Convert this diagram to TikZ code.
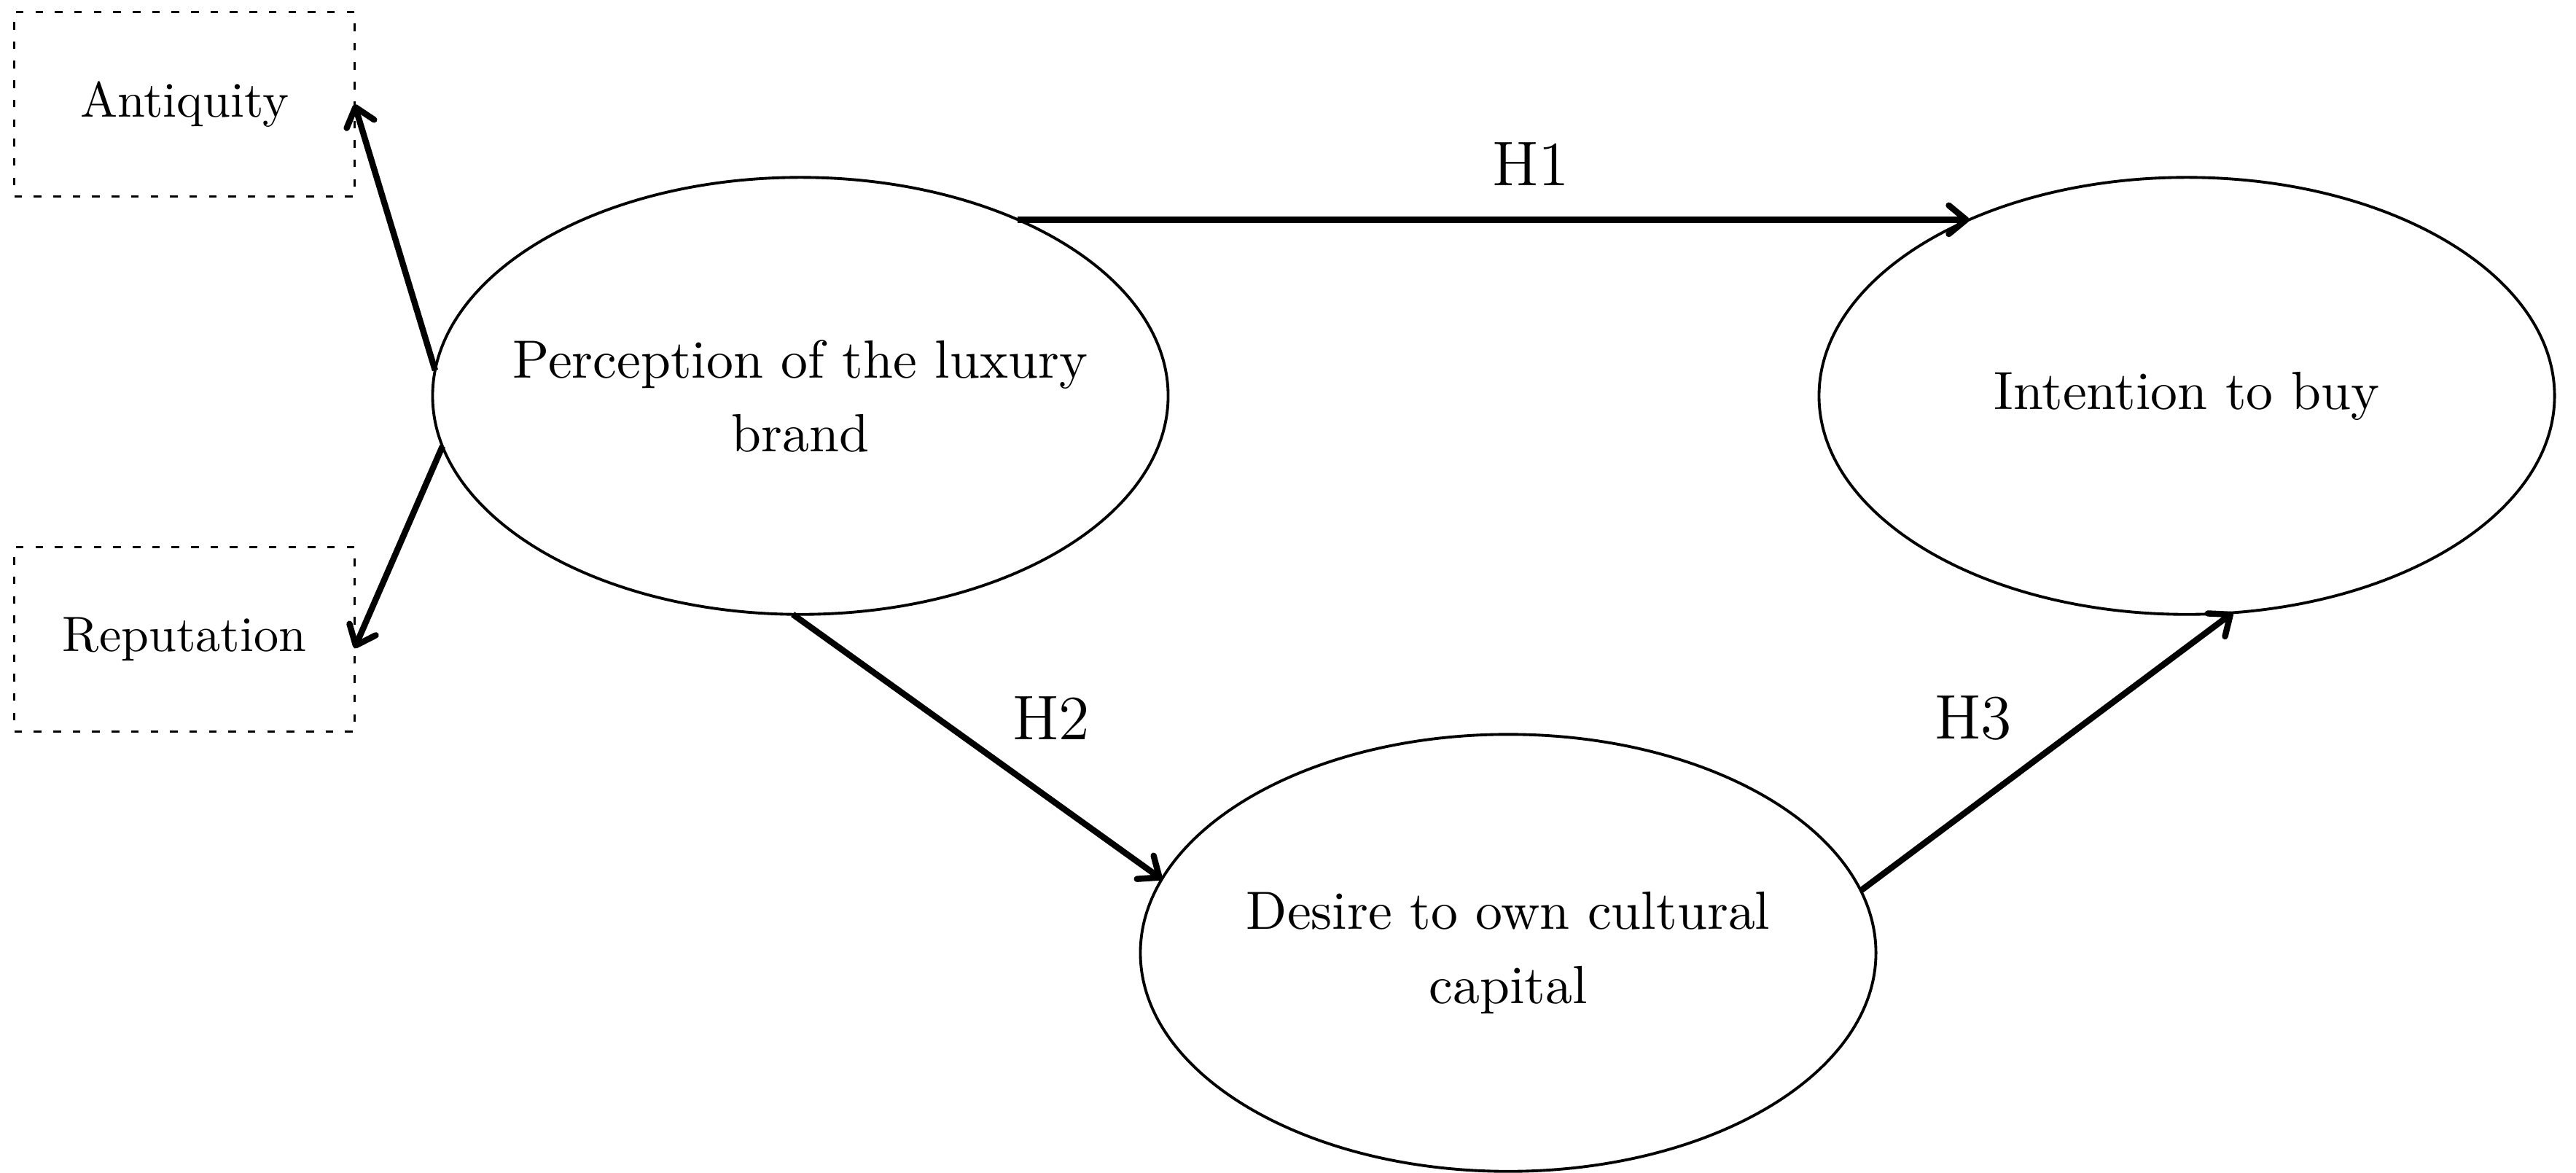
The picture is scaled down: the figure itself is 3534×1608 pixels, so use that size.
\documentclass[tikz,border=0pt]{standalone}
\usetikzlibrary{shapes, arrows.meta}

\begin{document}
\begin{tikzpicture}
  [
  x = 0.005cm, y = -0.005cm,
  % construct
  construct/.style = {ellipse,
    draw, line width = 0.55pt,
    minimum width = 5.05cm,
    minimum height = 3cm,
    inner sep = 0pt, outer sep = 0pt},
  % text in a construct
  ctext/.style = {align = center,
    font = \fontsize{10.5}{14.4}\selectfont},
  % indicator
  indicator/.style = {rectangle,
    draw, line width = 0.42pt,
    dash pattern = on 1.5pt off 2.3pt,
    minimum width = 2.335cm,
    minimum height = 1.27cm,
    inner sep = 0pt, outer sep = 0pt,
    font = \fontsize{9.7}{12}\selectfont},
  % hypothesis
  hyp/.style = {font = \fontsize{12.3}{14}\selectfont},
  % line
  line/.style = {draw, line width = 1.2pt,
    -{Straight Barb[length = 3.4pt, width = 5.6pt, round]}},
  ]

  \useasboundingbox (0,0) rectangle (3534,1608);

  % nodes
  \node [construct] (perc) at (1098,543) {};
  \node [construct] (intent) at (3000,543) {};
  \node [construct] (desire) at (2069,1307) {};
  \node [ctext] (perc text) at (perc) {Perception of the luxury\\brand};
  \node [ctext] (intent text) at (intent) {Intention to buy};
  \node [ctext] (desire text) at (desire) {Desire to own cultural\\capital};
  \node [indicator] (anti) at (253,143) {Antiquity};
  \node [indicator] (rep) at (253,877) {Reputation};

  % labels
  \node [hyp] (h1) at (2100,225) {H1};
  \node [hyp] (h2) at (1442,985) {H2};
  \node [hyp] (h3) at (2707,985) {H3};

  % path
  \path [line] (perc.39) -- (intent.141);
  \path [line] (perc.-92) -- (desire.168);
  \path [line] (desire.10) -- (intent.-78);
  \path [line] (perc.176) -- (anti.east);
  \path [line] (perc.188) -- (rep.-3);

\end{tikzpicture}
\end{document}
